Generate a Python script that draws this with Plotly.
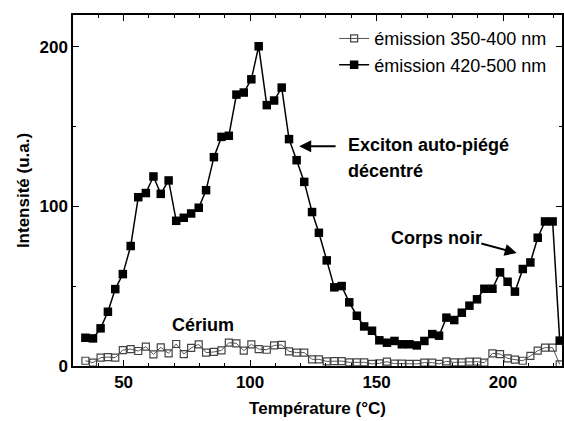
import plotly.graph_objects as go

temperature = [34.9, 37.9, 40.9, 43.8, 46.7, 49.7, 52.8, 55.8, 58.8, 61.8,
               64.7, 67.8, 70.8, 73.8, 76.7, 79.7, 82.6, 85.7, 88.7, 91.6,
               94.6, 97.5, 100.5, 103.4, 106.6, 109.5, 112.5, 115.4, 118.4, 121.4,
               124.5, 127.2, 130.3, 133.3, 136.2, 139.2, 142.2, 145.1, 148.2, 151.1,
               154.1, 157.1, 160.0, 163.0, 165.9, 168.9, 172.0, 174.7, 177.6, 180.7,
               183.7, 186.7, 189.7, 192.6, 195.8, 198.8, 201.8, 204.7, 207.8, 210.8,
               213.7, 216.6, 219.6, 222.4]

em_350_400 = [3.3, 2.1, 5.2, 5.6, 5.2, 10, 10.6, 9.4, 12.1, 7.3,
              11.7, 7.9, 13.8, 7.5, 11.3, 13.6, 8.4, 8.8, 9.8, 14.6,
              14.2, 9.6, 13.6, 10.6, 10.2, 12.9, 13.2, 9.2, 8.4, 8.4,
              4.2, 4.2, 2.9, 3.1, 3.1, 2.3, 2.3, 2.3, 1.3, 1.7,
              2.7, 1.5, 1.5, 1.3, 1.3, 2.1, 2.1, 1.3, 2.9, 2.3,
              2.3, 2.7, 2.7, 2.1, 7.9, 7.5, 4.8, 4.0, 3.3, 6.3,
              9.6, 11.5, 11.5, 1.0]

em_420_500 = [17.7, 17.3, 23.6, 34, 48.2, 57.6, 75.2, 105.8, 108.4, 118.8,
              107.9, 116.3, 91, 92.9, 95.6, 99.2, 110.2, 130.9, 143.6, 144.3,
              170.1, 171.4, 179.7, 200.4, 163.5, 166.4, 174.5, 142.2, 129, 115.4,
              96.5, 83.5, 66.2, 49.3, 50.1, 39.9, 31.5, 24.8, 22.1, 16.1,
              14.6, 15.7, 13.6, 13.6, 12.9, 15.7, 20, 19, 30.3, 28.8,
              33.4, 37.8, 41.8, 48.4, 48.4, 58.7, 52.8, 46.6, 60.8, 64.9,
              80.4, 90.6, 90.6, 15.9]

FONT = "Liberation Sans, Arial, Helvetica, sans-serif"

fig = go.Figure()
fig.add_trace(go.Scatter(
    x=temperature, y=em_350_400, mode="lines+markers", name="émission 350-400 nm",
    line=dict(color="#555555", width=1),
    marker=dict(symbol="square-open", size=7, color="#444444", line=dict(width=1.2)),
))
fig.add_trace(go.Scatter(
    x=temperature, y=em_420_500, mode="lines+markers", name="émission 420-500 nm",
    line=dict(color="black", width=1.5),
    marker=dict(symbol="square", size=8.5, color="black"),
))

axis_common = dict(
    showline=True, linecolor="black", linewidth=1.5, mirror="ticks",
    ticks="inside", ticklen=6, tickwidth=1.2, tickcolor="black",
    showgrid=False, zeroline=False, automargin=False,
    tickfont=dict(family=FONT, size=17, color="black", weight="bold"),
    title_font=dict(family=FONT, size=17, color="black", weight="bold"),
)

fig.update_xaxes(range=[30, 223.3], dtick=50, tick0=0,
                 minor=dict(dtick=10, ticks="inside", ticklen=3, tickcolor="black"),
                 title_text="Température (°C)", title_standoff=11, **axis_common)
fig.update_yaxes(range=[0, 220], dtick=100, tick0=0,
                 minor=dict(dtick=50, ticks="inside", ticklen=3, tickcolor="black"),
                 title_text="Intensité (u.a.)", title_standoff=6, **axis_common)

fig.update_layout(
    width=564, height=421,
    margin=dict(l=73, r=2, t=15, b=55),
    plot_bgcolor="white", paper_bgcolor="white",
    showlegend=True,
    legend=dict(x=0.534, y=0.985, xanchor="left", yanchor="top",
                bgcolor="rgba(0,0,0,0)", borderwidth=0,
                font=dict(family=FONT, size=18, color="black"),
                tracegroupgap=0, itemwidth=30),
    font=dict(family=FONT, color="black"),
)

ann_font = dict(family=FONT, size=18, color="black", weight="bold")
fig.add_annotation(x=119.4, y=137.8, ax=134.4, ay=137.8, xref="x", yref="y",
                   axref="x", ayref="y", text="", showarrow=True,
                   arrowhead=2, arrowsize=1.2, arrowwidth=2, arrowcolor="black")
fig.add_annotation(x=137.8, y=138.5, xref="x", yref="y", text="Exciton auto-piégé",
                   showarrow=False, xanchor="left", yanchor="middle", font=ann_font)
fig.add_annotation(x=137.8, y=122.5, xref="x", yref="y", text="décentré",
                   showarrow=False, xanchor="left", yanchor="middle", font=ann_font)
fig.add_annotation(x=205.4, y=70.8, ax=190.8, ay=77, xref="x", yref="y",
                   axref="x", ayref="y", text="", showarrow=True,
                   arrowhead=2, arrowsize=1.2, arrowwidth=2, arrowcolor="black")
fig.add_annotation(x=154.8, y=80, xref="x", yref="y", text="Corps noir",
                   showarrow=False, xanchor="left", yanchor="middle", font=ann_font)
fig.add_annotation(x=81.5, y=25.5, xref="x", yref="y", text="Cérium",
                   showarrow=False, xanchor="center", yanchor="middle", font=ann_font)

fig.write_html("out.html", config={"displayModeBar": False},
               post_script="document.body.style.margin='0px';")
